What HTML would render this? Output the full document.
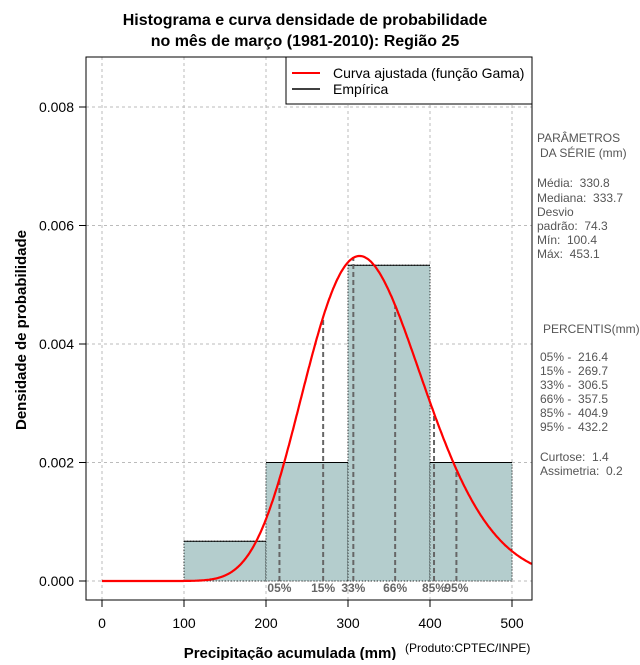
<!DOCTYPE html>
<html><head><meta charset="utf-8"><style>
body{margin:0;background:#fff}
svg text{font-family:"Liberation Sans",sans-serif;white-space:pre}
</style></head><body>
<svg id="c" width="640" height="660" xmlns="http://www.w3.org/2000/svg">
<text x="305" y="25" text-anchor="middle" font-size="16" font-weight="bold">Histograma e curva densidade de probabilidade</text>
<text x="305" y="46" text-anchor="middle" font-size="16" font-weight="bold">no mês de março (1981-2010): Região 25</text>
<g id="grid"></g><g id="bars"></g><g id="pct"></g><g id="curve"></g><g id="axes"></g>
<rect x="86" y="57" width="446" height="543" fill="none" stroke="#000"/>
<g>
<rect x="286" y="57" width="246" height="47" fill="#fff" stroke="#000"/>
<line x1="292" y1="73" x2="320" y2="73" stroke="red" stroke-width="2"/>
<text x="333" y="78" font-size="14">Curva ajustada (função Gama)</text>
<line x1="292" y1="89" x2="320" y2="89" stroke="#000" stroke-width="1.5"/>
<text x="333" y="94" font-size="14">Empírica</text>
</g>
<text transform="translate(26,330) rotate(-90)" text-anchor="middle" font-size="15" font-weight="bold">Densidade de probabilidade</text>
<text x="290" y="658" text-anchor="middle" font-size="15" font-weight="bold">Precipitação acumulada (mm)</text>
<text x="405" y="652" font-size="12">(Produto:CPTEC/INPE)</text>
<g font-size="12" fill="#555">
<text x="537" y="142">PARÂMETROS</text><text x="540" y="157">DA SÉRIE (mm)</text>
<text x="537" y="187">Média:  330.8</text><text x="537" y="202">Mediana:  333.7</text>
<text x="537" y="216">Desvio</text><text x="537" y="230">padrão:  74.3</text>
<text x="537" y="244">Mín:  100.4</text><text x="537" y="258">Máx:  453.1</text>
<text x="543" y="333">PERCENTIS(mm)</text>
<text x="540" y="361">05% -  216.4</text><text x="540" y="375">15% -  269.7</text>
<text x="540" y="389">33% -  306.5</text><text x="540" y="403">66% -  357.5</text>
<text x="540" y="417">85% -  404.9</text><text x="540" y="431">95% -  432.2</text>
<text x="540" y="461">Curtose:  1.4</text><text x="540" y="475">Assimetria:  0.2</text>
</g>
</svg>
<script>
const binEdges=[100,200,300,400,500];
const binDens=[0.00067,0.002,0.00533,0.002];
const pctVals=[216.4,269.7,306.5,357.5,404.9,432.2];
const pctLabels=["05%","15%","33%","66%","85%","95%"];
const xTicks=[0,100,200,300,400,500];
const yTicks=[0,0.002,0.004,0.006,0.008];
const gMean=330.8, gSd=74.3;
const NS="http://www.w3.org/2000/svg";
const X=v=>102+v*0.82, Y=v=>581-v*59250;
function mk(p,t,a){const e=document.createElementNS(NS,t);for(const k in a)e.setAttribute(k,a[k]);document.getElementById(p).appendChild(e);return e;}
function lg(z){const c=[76.18009172947146,-86.50532032941677,24.01409824083091,-1.231739572450155,0.1208650973866179e-2,-0.5395239384953e-5];let x=z,y=z,t=x+5.5;t-=(x+0.5)*Math.log(t);let s=1.000000000190015;for(const v of c)s+=v/++y;return -t+Math.log(2.5066282746310005*s/x);}
const k=(gMean/gSd)**2, th=gSd*gSd/gMean;
const dens=x=>x<=0?0:Math.exp((k-1)*Math.log(x)-x/th-lg(k)-k*Math.log(th));
xTicks.forEach(t=>{let l=mk('grid','line',{x1:X(t),x2:X(t),y1:57,y2:600,stroke:'#bbb','stroke-dasharray':'3,3'});

mk('axes','line',{x1:X(t),x2:X(t),y1:600,y2:607,stroke:'#000'});
let tx=mk('axes','text',{x:X(t),y:628,'text-anchor':'middle','font-size':14});tx.textContent=t;
});
yTicks.forEach(t=>{let l=mk('grid','line',{x1:86,x2:532,y1:Y(t),y2:Y(t),stroke:'#bbb','stroke-dasharray':'3,3'});

mk('axes','line',{x1:79,x2:86,y1:Y(t),y2:Y(t),stroke:'#000'});
let tx=mk('axes','text',{x:74,y:Y(t)+5,'text-anchor':'end','font-size':14});tx.textContent=t.toFixed(3);
});
binDens.forEach((d,i)=>{const x0=X(binEdges[i]),x1=X(binEdges[i+1]);
let r=mk('bars','rect',{x:x0,y:Y(d),width:x1-x0,height:Y(0)-Y(d),fill:'#b4cdcd',stroke:'#000','stroke-dasharray':'1,2'});

mk('bars','line',{x1:x0,x2:x1,y1:Y(d),y2:Y(d),stroke:'#000'});});
pctVals.forEach((p,i)=>{let l=mk('pct','line',{x1:X(p),x2:X(p),y1:Y(0),y2:Y(dens(p)),stroke:'#666','stroke-width':2,'stroke-dasharray':'5,3'});

let t=mk('pct','text',{x:X(p),y:592,'text-anchor':'middle','font-size':12,'font-weight':'bold',fill:'#666'});t.textContent=pctLabels[i];
});
let d='';for(let v=0;v<=524;v+=1)d+=(v?'L':'M')+X(v).toFixed(1)+','+Y(dens(v)).toFixed(1);
let c=mk('curve','path',{d:d,fill:'none',stroke:'red','stroke-width':2.2});

</script>
</body></html>
